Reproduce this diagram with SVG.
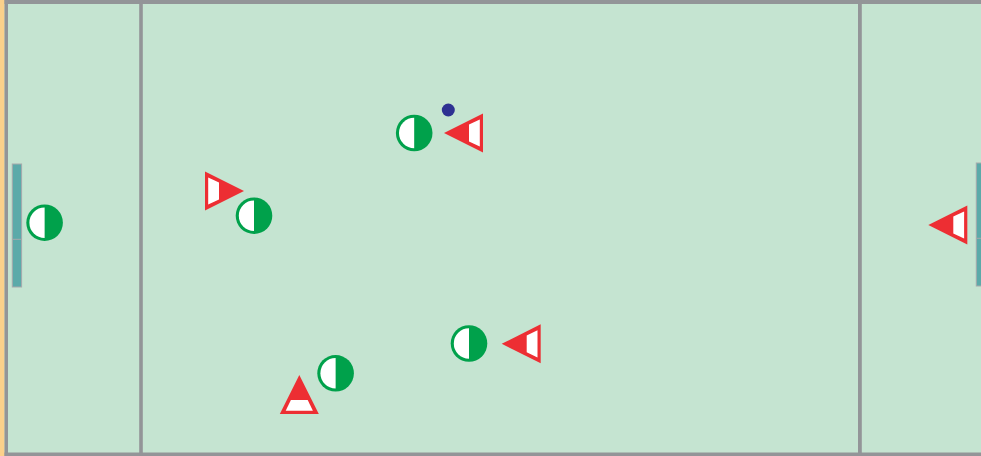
<svg xmlns="http://www.w3.org/2000/svg" xmlns:xlink="http://www.w3.org/1999/xlink" width="981" height="456" viewBox="0 0 981 456">
<style>
.line{fill:#939598}
.goal{fill:#5baaa9;stroke:#a7a9ac;stroke-width:1}
.gdiv{stroke:#a7a9ac;stroke-width:1}
.red{fill:#ed2e33}
.white{fill:#ffffff}
.green{fill:#00a14b}
</style>
<defs>
<g id="gp">
<circle class="green" r="18.3"/>
<path class="white" d="M0,-15.2 A15.2,15.2 0 0 0 0,15.2 Z"/>
</g>
<g id="rp">
<polygon class="red" points="0,0 39,-19.5 39,19.5"/>
<polygon class="white" points="25,-8.4 35.8,-13.6 35.8,13.6 25,8.4"/>
</g>
</defs>
<g id="field">
<rect x="0" y="0" width="981" height="456" fill="#c5e4d1"/>
<rect class="line" x="0" y="0" width="981" height="4"/>
<rect class="line" x="0" y="452.5" width="981" height="3.5"/>
<rect x="0" y="0" width="4.5" height="456" fill="#fbd18b"/>
<rect class="line" x="4.5" y="0" width="3.5" height="456"/>
<rect class="line" x="139.2" y="0" width="3.6" height="456"/>
<rect class="line" x="858" y="0" width="3.8" height="456"/>
</g>
<g id="goal-left">
<rect class="goal" x="12.3" y="164" width="9.3" height="123"/>
<line class="gdiv" x1="12.3" y1="239.3" x2="21.6" y2="239.3"/>
</g>
<g id="goal-right">
<rect class="goal" x="976.3" y="163" width="6" height="123"/>
<line class="gdiv" x1="976.3" y1="238.3" x2="982" y2="238.3"/>
</g>
<g id="green-1"><use xlink:href="#gp" x="44.6" y="222.7"/></g>
<g id="green-2"><use xlink:href="#gp" x="414.2" y="133"/></g>
<g id="green-3"><use xlink:href="#gp" x="254" y="215.7"/></g>
<g id="green-4"><use xlink:href="#gp" x="335.6" y="373.3"/></g>
<g id="green-5"><use xlink:href="#gp" x="469" y="343.5"/></g>
<g id="red-1"><use xlink:href="#rp" transform="translate(444,133)"/></g>
<g id="red-2"><use xlink:href="#rp" transform="translate(244,191) rotate(180)"/></g>
<g id="red-3"><use xlink:href="#rp" transform="translate(299.3,375) rotate(90)"/></g>
<g id="red-4"><use xlink:href="#rp" transform="translate(501.7,343.8)"/></g>
<g id="red-5"><use xlink:href="#rp" transform="translate(928.3,225)"/></g>
<g id="ball"><circle cx="448.3" cy="110" r="6.5" fill="#2e3192"/></g>
</svg>
